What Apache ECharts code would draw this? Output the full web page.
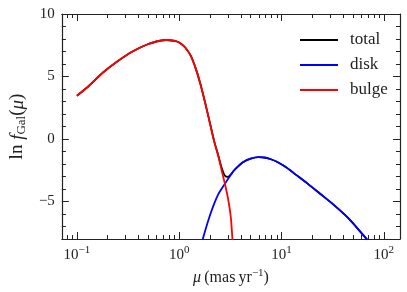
<!DOCTYPE html>
<html><head><meta charset="utf-8">
<script src="https://cdn.jsdelivr.net/npm/echarts@6/dist/echarts.min.js"></script>
<style>html,body{margin:0;padding:0;background:#fff}#c{width:407px;height:292px}</style>
</head><body><div id="c"></div>
<script>
// proper motion grid (mas/yr)
const mu = [0.1, 0.13, 0.18, 0.25, 0.35, 0.5, 0.65, 0.75, 0.85, 0.95, 1.05, 1.15, 1.3, 1.45, 1.6, 1.8, 2.0, 2.2, 2.4, 2.6, 2.8, 3.0, 3.2, 3.4, 3.7, 4.2, 5, 6, 7, 8, 9, 11, 14, 18, 24, 32, 45, 60, 75];
const bulge = [3.46, 4.22, 5.32, 6.22, 7.0, 7.6, 7.86, 7.92, 7.88, 7.8, 7.6, 7.3, 6.65, 5.65, 4.5, 2.85, 1.25, -0.2, -1.3, -2.5, -3.6, -4.75, -6.3, -9.5, null, null, null, null, null, null, null, null, null, null, null, null, null, null, null];
const disk = [null, null, null, null, null, null, null, null, null, null, null, null, null, null, -8.8, -7.3, -6.1, -5.17, -4.45, -3.98, -3.58, -3.2, -2.86, -2.56, -2.25, -1.86, -1.57, -1.45, -1.5, -1.64, -1.82, -2.24, -2.89, -3.57, -4.4, -5.23, -6.33, -7.49, -8.41];
const total = [3.46, 4.22, 5.32, 6.22, 7.0, 7.6, 7.86, 7.92, 7.88, 7.8, 7.6, 7.3, 6.65, 5.65, 4.5, 2.85, 1.25, -0.19, -1.26, -2.3, -2.94, -3.03, -2.83, -2.56, -2.25, -1.86, -1.57, -1.45, -1.5, -1.64, -1.82, -2.24, -2.89, -3.57, -4.4, -5.23, -6.33, -7.49, -8.41];
const seriesNames = ['total', 'disk', 'bulge'];
const seriesColors = ['#000000', '#0000ff', '#ff0000'];
const xMajorTicks = [0.1, 1, 10, 100];
const xMinorTicks = [0.08, 0.09, 0.2, 0.3, 0.4, 0.5, 0.6, 0.7, 0.8, 0.9, 2, 3, 4, 5, 6, 7, 8, 9, 20, 30, 40, 50, 60, 70, 80, 90];
const yMajorTicks = [-5, 0, 5, 10];
const yMinorTicks = [-7, -6, -4, -3, -2, -1, 1, 2, 3, 4, 6, 7, 8, 9];
const xRange = [0.0713, 144];
const yRange = [-8, 10];

const FONT = 'Liberation Serif';
const AX = '#222';
const L = Math.log10;
const chart = echarts.init(document.getElementById('c'));

// x axis: decades in log10 space (value axis showing log10 of mu)
function xAxisDef(pos, ticks, len, labels, line) {
  return {
    type: 'value', min: L(xRange[0]), max: L(xRange[1]), position: pos,
    axisLine: {show: line, onZero: false, lineStyle: {color: AX, width: 1.2}},
    axisTick: {show: true, inside: true, length: len, customValues: ticks.map(L), lineStyle: {color: AX, width: 1}},
    axisLabel: labels ? {
      show: true, customValues: xMajorTicks.map(L), margin: 6, color: '#222', fontFamily: FONT,
      formatter: function (v) {
        const e = Math.round(v);
        return '{b|10}{s|' + (e < 0 ? '\u2212' + (-e) : e) + '}';
      },
      rich: {b: {fontFamily: FONT, fontSize: 15, color: '#222'}, s: {fontFamily: FONT, fontSize: 11, color: '#222', padding: [0, 0, 9, 0]}}
    } : {show: false},
    splitLine: {show: false}, minorTick: {show: false}
  };
}
function yAxisDef(pos, ticks, len, labels, line) {
  return {
    type: 'value', min: yRange[0], max: yRange[1], position: pos,
    axisLine: {show: line, onZero: false, lineStyle: {color: AX, width: 1.2}},
    axisTick: {show: true, inside: true, length: len, customValues: ticks, lineStyle: {color: AX, width: 1}},
    axisLabel: labels ? {
      show: true, customValues: yMajorTicks, margin: 7, color: '#222', fontFamily: FONT, fontSize: 15,
      formatter: function (v) { return v < 0 ? '\u2212' + (-v) : String(v); }
    } : {show: false},
    splitLine: {show: false}
  };
}

const xAxes = [
  xAxisDef('bottom', xMajorTicks, 7, true, true),
  xAxisDef('bottom', xMinorTicks, 4, false, false),
  xAxisDef('top', xMajorTicks, 7, false, true),
  xAxisDef('top', xMinorTicks, 4, false, false)
];
xAxes[0].name = '{i|\u03bc} {n|(mas\u2009yr}{s|\u22121}{n|)}';
xAxes[0].nameLocation = 'middle';
xAxes[0].nameGap = 29;
xAxes[0].nameTextStyle = {rich: {
  i: {fontFamily: FONT, fontStyle: 'italic', fontSize: 16, color: '#222'},
  n: {fontFamily: FONT, fontSize: 16, color: '#222'},
  s: {fontFamily: FONT, fontSize: 11, color: '#222', padding: [0, 0, 9, 0]}
}};

const yAxes = [
  yAxisDef('left', yMajorTicks, 7, true, true),
  yAxisDef('left', yMinorTicks, 4, false, false),
  yAxisDef('right', yMajorTicks, 7, false, true),
  yAxisDef('right', yMinorTicks, 4, false, false)
];
yAxes[0].name = '{n|ln }{i|f}{s|Gal}{n|(}{i|\u03bc}{n|)}';
yAxes[0].nameLocation = 'middle';
yAxes[0].nameGap = 26;
yAxes[0].nameRotate = 90;
yAxes[0].nameTextStyle = {rich: {
  i: {fontFamily: FONT, fontStyle: 'italic', fontSize: 19, color: '#222'},
  n: {fontFamily: FONT, fontSize: 19, color: '#222'},
  s: {fontFamily: FONT, fontSize: 13, color: '#222', padding: [8, 0, 0, 0]}
}};

const arrays = [total, disk, bulge];
const series = arrays.map(function (arr, k) {
  const data = [];
  for (let i = 0; i < mu.length; i++) if (arr[i] !== null) data.push([L(mu[i]), arr[i]]);
  return {
    name: seriesNames[k], type: 'line', data: data, xAxisIndex: 0, yAxisIndex: 0,
    symbol: 'none', smooth: 0.25, clip: true, animation: false,
    lineStyle: {color: seriesColors[k], width: 1.8}, itemStyle: {color: seriesColors[k]}, z: 2 + k
  };
});

chart.setOption({
  animation: false,
  backgroundColor: '#fff',
  grid: {left: 57, right: 7, top: 14, bottom: 53, containLabel: false},
  xAxis: xAxes,
  yAxis: yAxes,
  legend: {
    orient: 'vertical', left: 295, top: 26, itemWidth: 38, itemHeight: 2, itemGap: 7,
    icon: 'rect',
    data: seriesNames,
    textStyle: {fontFamily: FONT, fontSize: 17, lineHeight: 18, color: '#222', padding: [0, 0, 0, 7]}
  },
  series: series
});
</script></body></html>
